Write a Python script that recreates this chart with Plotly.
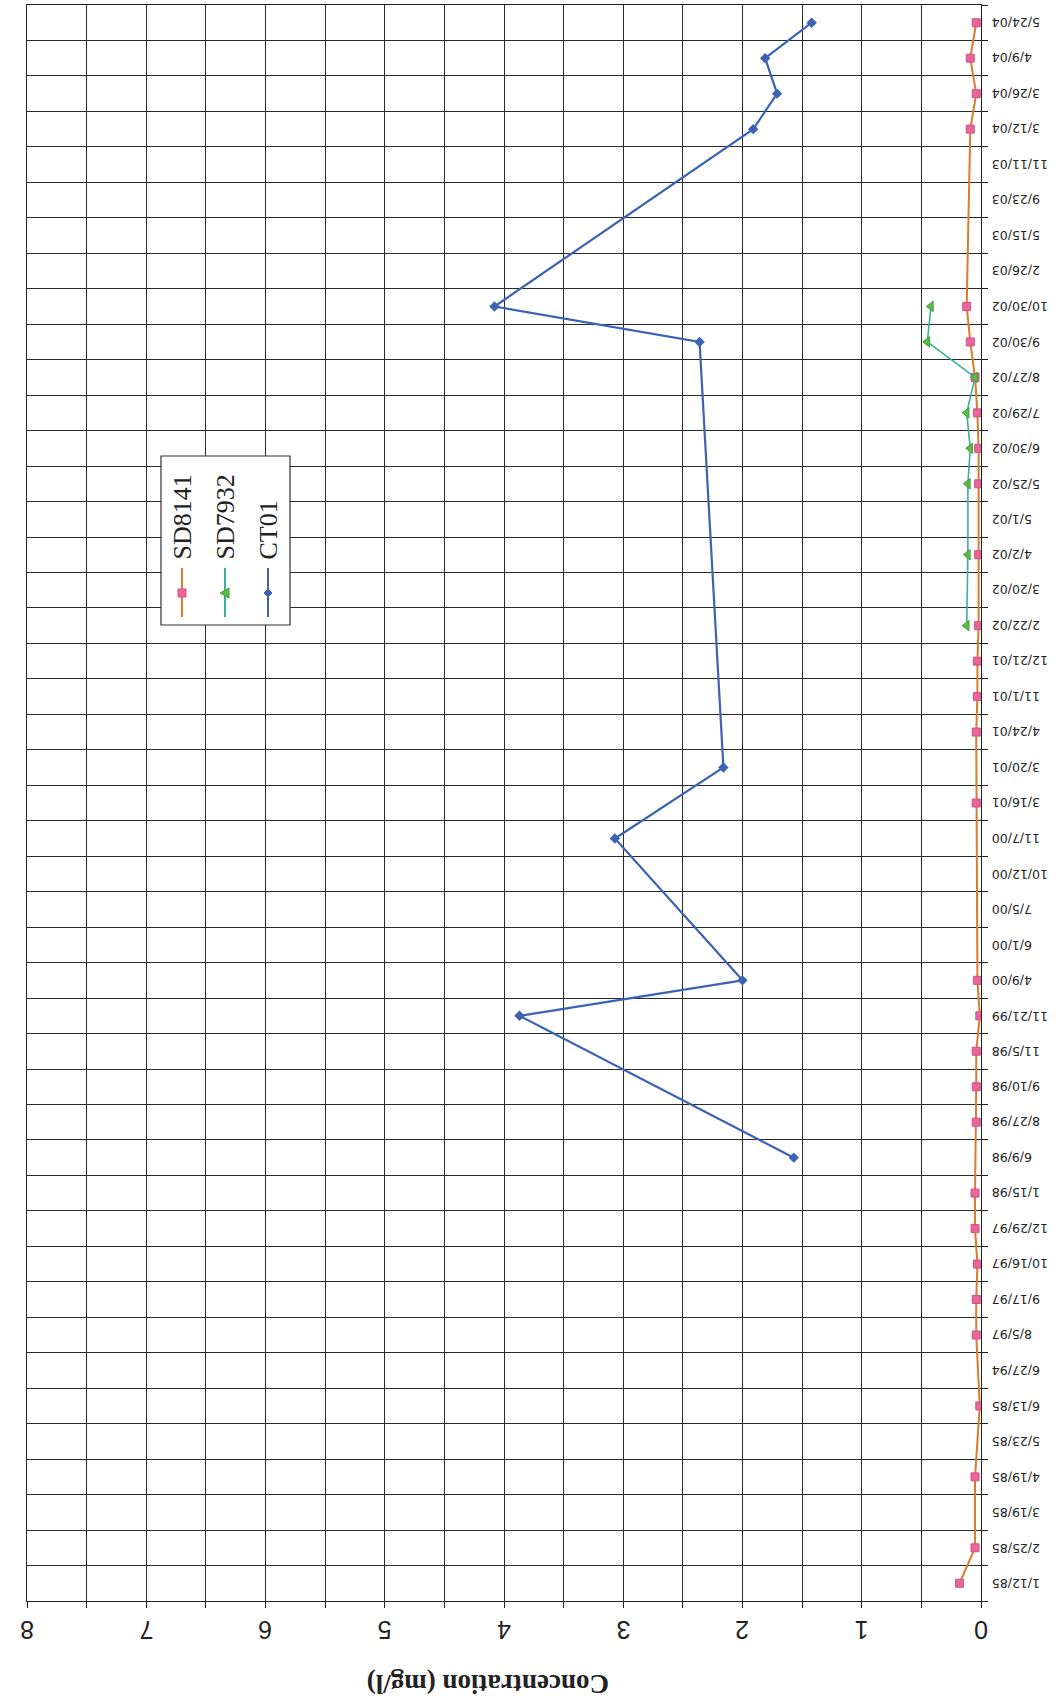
import plotly.graph_objects as go

dates = ["1/12/85", "2/25/85", "3/19/85", "4/19/85", "5/23/85", "6/13/85", "6/27/94",
         "8/5/97", "9/17/97", "10/16/97", "12/29/97", "1/15/98", "6/9/98", "8/27/98",
         "9/10/98", "11/5/98", "11/21/99", "4/9/00", "6/1/00", "7/5/00", "10/12/00",
         "11/7/00", "3/16/01", "3/20/01", "4/24/01", "11/1/01", "12/21/01", "2/22/02",
         "3/20/02", "4/2/02", "5/1/02", "5/25/02", "6/30/02", "7/29/02", "8/27/02",
         "9/30/02", "10/30/02", "2/26/03", "5/15/03", "9/23/03", "11/11/03", "3/12/04",
         "3/26/04", "4/9/04", "5/24/04"]

N = None
sd8141 = [0.18, 0.05, N, 0.05, N, 0.01, N,
          0.04, 0.04, 0.03, 0.05, 0.05, N, 0.04,
          0.04, 0.04, 0.01, 0.03, N, N, N,
          N, 0.04, N, 0.04, 0.03, 0.03, 0.02,
          N, 0.02, N, 0.02, 0.02, 0.03, 0.05,
          0.09, 0.12, N, N, N, N, 0.09,
          0.04, 0.09, 0.04]

sd7932 = [N, N, N, N, N, N, N,
          N, N, N, N, N, N, N,
          N, N, N, N, N, N, N,
          N, N, N, N, N, N, 0.12,
          N, 0.11, N, 0.11, 0.09, 0.12, 0.05,
          0.45, 0.42, N, N, N, N, N,
          N, N, N]

ct01 = [N, N, N, N, N, N, N,
        N, N, N, N, N, 1.57, N,
        N, N, 3.87, 2.0, N, N, N,
        3.07, N, 2.16, N, N, N, N,
        N, N, N, N, N, N, N,
        2.36, 4.08, N, N, N, N, 1.91,
        1.71, 1.81, 1.42]

x_ticks = [0, 1, 2, 3, 4, 5, 6, 7, 8]
series_names = ["SD8141", "SD7932", "CT01"]

W, H = 1058, 1702
L, R, T, B = 27, 77, 5, 101
PW, PH = W - L - R, H - T - B


def px(xp):
    return (xp - L) / PW


def py(yp):
    return (H - B - yp) / PH


fig = go.Figure()

fig.add_trace(go.Scatter(
    x=sd8141, y=dates, name="SD8141", mode="lines+markers", connectgaps=True,
    line=dict(color="#DD7A2C", width=2),
    marker=dict(symbol="square", size=8, color="#E8669C", line=dict(color="#D4508A", width=1))))
fig.add_trace(go.Scatter(
    x=sd7932, y=dates, name="SD7932", mode="lines+markers", connectgaps=True,
    line=dict(color="#3BAE9E", width=1.6),
    marker=dict(symbol="triangle-left", size=9, color="#5DBB45", line=dict(color="#3E9E34", width=1))))
fig.add_trace(go.Scatter(
    x=ct01, y=dates, name="CT01", mode="lines+markers", connectgaps=True,
    line=dict(color="#3C62B4", width=2.2),
    marker=dict(symbol="diamond", size=8, color="#3C62B4")))

annotations = []
# category labels (upside down, right of plot)
for d in dates:
    annotations.append(dict(text=d, xref="paper", yref="y", x=1, y=d, xshift=9,
                            xanchor="left", yanchor="middle", textangle=180, showarrow=False,
                            font=dict(family="DejaVu Sans", size=12.5, color="#222")))
# concentration tick labels (upside down, below plot)
for v in x_ticks:
    annotations.append(dict(text=str(v), xref="x", yref="paper", x=v, y=py(1630),
                            xanchor="center", yanchor="middle", textangle=180, showarrow=False,
                            font=dict(family="Liberation Sans", size=25, color="#222")))
annotations.append(dict(text="<b>Concentration (mg/l)</b>", xref="paper", yref="paper",
                        x=px(488), y=py(1684), xanchor="center", yanchor="middle",
                        textangle=180, showarrow=False,
                        font=dict(family="Liberation Serif", size=27, color="#222")))

# legend (rotated)
shapes = [dict(type="rect", xref="paper", yref="paper", x0=px(161), x1=px(290),
               y0=py(625), y1=py(456), line=dict(color="#333", width=1.2),
               fillcolor="white", layer="above")]
leg_x = [182, 225, 268]
leg_colors = ["#DD7A2C", "#3BAE9E", "#3C62B4"]
for name, lx, lc in zip(series_names, leg_x, leg_colors):
    annotations.append(dict(text=name, xref="paper", yref="paper", x=px(lx), y=py(562),
                            xanchor="center", yanchor="bottom", textangle=-90, showarrow=False,
                            font=dict(family="Liberation Serif", size=26, color="#222")))
    shapes.append(dict(type="line", xref="paper", yref="paper", x0=px(lx), x1=px(lx),
                       y0=py(617), y1=py(568), line=dict(color=lc, width=2), layer="above"))
# legend marker symbols
my = 593
shapes.append(dict(type="rect", xref="paper", yref="paper", x0=px(178), x1=px(186),
                   y0=py(597), y1=py(589), fillcolor="#E8669C",
                   line=dict(color="#D4508A", width=1), layer="above"))
shapes.append(dict(type="path", xref="paper", yref="paper",
                   path=f"M {px(220)} {py(my)} L {px(229)} {py(my-5)} L {px(229)} {py(my+5)} Z",
                   fillcolor="#5DBB45", line=dict(color="#3E9E34", width=1), layer="above"))
shapes.append(dict(type="path", xref="paper", yref="paper",
                   path=f"M {px(264)} {py(my)} L {px(268)} {py(my-4)} L {px(272)} {py(my)} L {px(268)} {py(my+4)} Z",
                   fillcolor="#3C62B4", line=dict(color="#3C62B4", width=1), layer="above"))

fig.update_layout(
    width=W, height=H,
    margin=dict(l=L, r=R, t=T, b=B),
    paper_bgcolor="white", plot_bgcolor="white",
    showlegend=False,
    annotations=annotations, shapes=shapes,
    xaxis=dict(range=[8, 0], dtick=0.5, showgrid=True, gridcolor="#2a2a2a", gridwidth=1.2,
               zeroline=False, showline=True, linecolor="#222", linewidth=1.4, mirror=True,
               ticks="outside", ticklen=6, tickcolor="#222", showticklabels=False),
    yaxis=dict(type="category", categoryorder="array", categoryarray=dates,
               range=[-0.5, len(dates) - 0.5], side="right", tickson="boundaries",
               showgrid=True, gridcolor="#2a2a2a", gridwidth=1.2,
               showline=True, linecolor="#222", linewidth=1.4, mirror=True,
               ticks="outside", ticklen=6, tickcolor="#222", showticklabels=False),
)

fig.write_html("out.html")
